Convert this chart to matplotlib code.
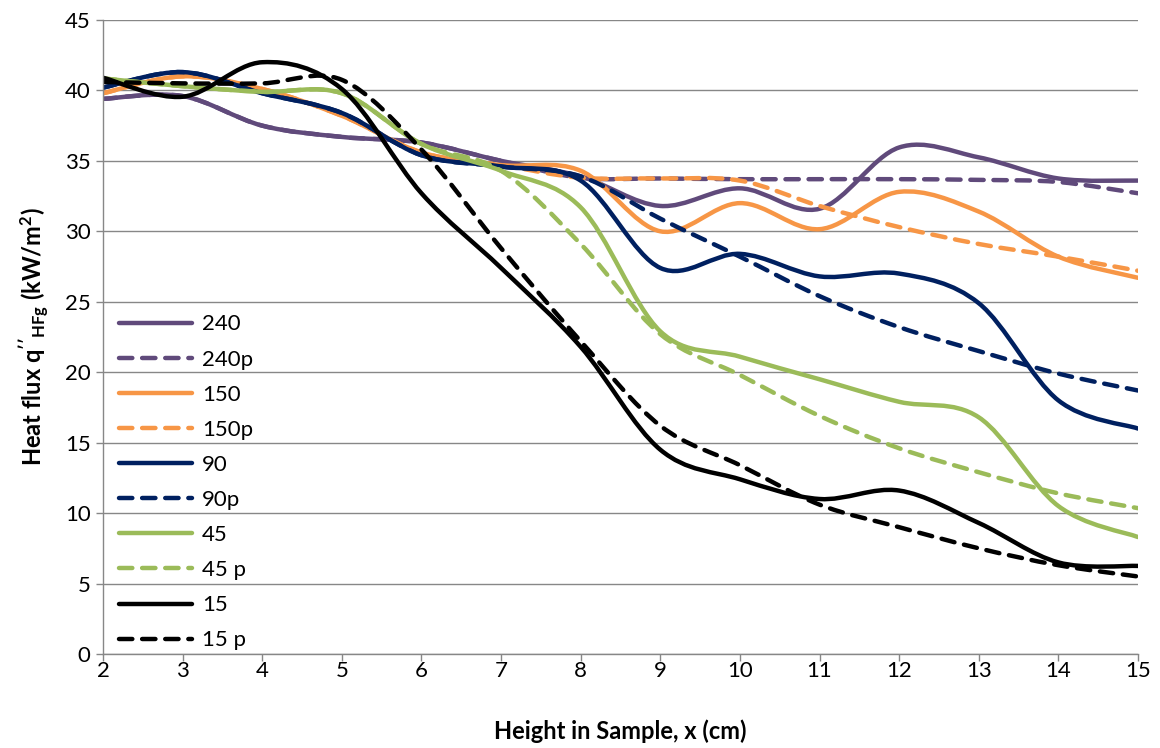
import matplotlib
matplotlib.use("Agg")
import matplotlib.pyplot as plt
import numpy as np
from matplotlib.lines import Line2D
from matplotlib.patches import PathPatch
from matplotlib.path import Path

plt.rcParams["font.family"] = ["Lato", "DejaVu Sans"]
plt.rcParams["mathtext.fontset"] = "custom"
plt.rcParams["mathtext.rm"] = "Lato:bold"
plt.rcParams["mathtext.it"] = "Lato:bold"
plt.rcParams["mathtext.bf"] = "Lato:bold"

# height in sample (cm)
height_cm = [2, 3, 4, 5, 6, 7, 8, 9, 10, 11, 12, 13, 14, 15]

# measured heat flux (kW/m2)
q_240 = [39.4, 39.6, 37.5, 36.7, 36.3, 35.0, 33.9, 31.8, 33.05, 31.6, 35.95, 35.25, 33.75, 33.6]
q_150 = [39.8, 41.0, 40.1, 38.2, 35.6, 34.7, 34.3, 30.0, 32.0, 30.15, 32.8, 31.4, 28.2, 26.7]
q_90 = [40.2, 41.3, 39.8, 38.4, 35.4, 34.6, 33.6, 27.4, 28.4, 26.8, 27.0, 24.9, 18.0, 16.0]
q_45 = [40.85, 40.3, 39.9, 39.8, 36.2, 34.3, 31.7, 22.9, 21.1, 19.5, 17.9, 16.8, 10.5, 8.3]
q_15 = [40.9, 39.55, 42.0, 40.1, 32.7, 27.4, 21.8, 14.5, 12.4, 11.0, 11.6, 9.3, 6.5, 6.25]

# predicted heat flux (kW/m2)
q_240p = [39.4, 39.6, 37.5, 36.7, 36.3, 35.0, 33.8, 33.75, 33.7, 33.7, 33.7, 33.65, 33.5, 32.7]
q_150p = [39.8, 41.0, 40.1, 38.2, 35.6, 34.7, 33.8, 33.75, 33.6, 31.8, 30.3, 29.1, 28.2, 27.2]
q_90p = [40.2, 41.3, 39.8, 38.4, 35.4, 34.6, 33.9, 30.9, 28.2, 25.4, 23.2, 21.5, 19.9, 18.7]
q_45p = [40.85, 40.3, 39.9, 39.8, 36.2, 34.3, 29.1, 22.7, 19.8, 16.9, 14.6, 12.9, 11.4, 10.35]
q_15p = [40.6, 40.5, 40.5, 40.75, 35.8, 28.8, 22.2, 16.2, 13.4, 10.6, 9.0, 7.5, 6.3, 5.5]

series_labels = ["240", "240p", "150", "150p", "90", "90p", "45", "45 p", "15", "15 p"]

PURPLE = "#604a7b"
ORANGE = "#f79646"
NAVY = "#002060"
GREEN = "#9bbb59"
BLACK = "#000000"


def smooth_path(xs, ys):
    """Excel-style smoothed line: cubic Bezier through each point."""
    pts = np.column_stack([xs, ys]).astype(float)
    n = len(pts)
    verts = [pts[0]]
    codes = [Path.MOVETO]
    for i in range(n - 1):
        p0 = pts[i - 1] if i > 0 else pts[i]
        p1 = pts[i]
        p2 = pts[i + 1]
        p3 = pts[i + 2] if i + 2 < n else pts[i + 1]
        c1 = p1 + (p2 - p0) / 6.0
        c2 = p2 - (p3 - p1) / 6.0
        verts += [c1, c2, p2]
        codes += [Path.CURVE4] * 3
    return Path(verts, codes)


fig = plt.figure(figsize=(11.6, 7.48), dpi=100)
ax = fig.add_axes([0.0888, 0.1257, 0.8922, 0.8476])

lw = 3.2
dash = (0, (3.0, 2.2))
series = [
    (q_240, PURPLE, "-"), (q_240p, PURPLE, dash),
    (q_150, ORANGE, "-"), (q_150p, ORANGE, dash),
    (q_90, NAVY, "-"), (q_90p, NAVY, dash),
    (q_45, GREEN, "-"), (q_45p, GREEN, dash),
    (q_15, BLACK, "-"), (q_15p, BLACK, dash),
]

handles = []
for (vals, color, ls), label in zip(series, series_labels):
    patch = PathPatch(smooth_path(height_cm, vals), fill=False, edgecolor=color,
                      linewidth=lw, linestyle=ls, capstyle="round", joinstyle="round")
    ax.add_patch(patch)
    handles.append(Line2D([], [], color=color, linewidth=lw, linestyle=ls,
                          solid_capstyle="round", dash_capstyle="round", label=label))

ax.set_xlim(2, 15)
ax.set_ylim(0, 45)
ax.set_xticks(height_cm)
ax.set_yticks(range(0, 46, 5))

ax.grid(axis="y", color="#878787", linewidth=1.0)
ax.set_axisbelow(True)
for side in ("top", "right"):
    ax.spines[side].set_visible(False)
for side in ("left", "bottom"):
    ax.spines[side].set_color("#878787")
    ax.spines[side].set_linewidth(1.0)
ax.tick_params(axis="both", colors="#878787", labelcolor="black", labelsize=16,
               length=5, width=1.0, direction="out")
ax.tick_params(axis="x", pad=0)
ax.tick_params(axis="y", pad=4)

ax.set_xlabel("Height in Sample, x (cm)", fontsize=17, fontweight="bold", labelpad=28)
ax.set_ylabel(r"Heat flux q$^{\prime\prime}{}_{\mathregular{HFg}}$ (kW/m$^{2}$)",
              fontsize=17, fontweight="bold", labelpad=10)

ax.legend(handles=handles, loc="upper left", bbox_to_anchor=(0.0, 0.56), frameon=False,
          fontsize=16, handlelength=3.3, handletextpad=0.45, labelspacing=0.68,
          borderaxespad=0.3)

fig.savefig("out.png", dpi=100)
